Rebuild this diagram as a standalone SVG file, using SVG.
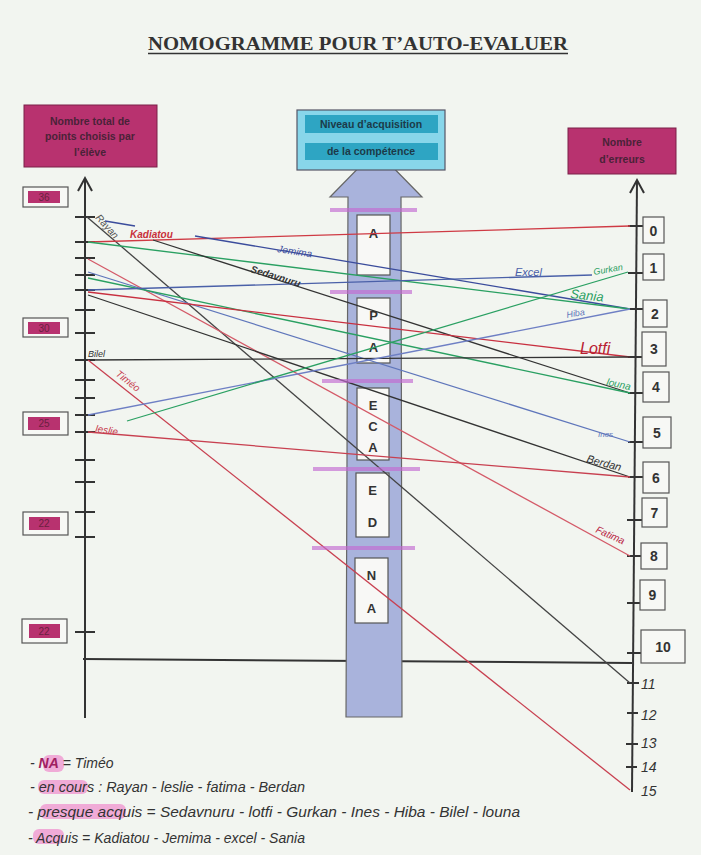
<svg xmlns="http://www.w3.org/2000/svg" width="701" height="855" viewBox="0 0 701 855">
<defs>
<style>
.bg{fill:#f2f5f0}
.ttl{font-family:"Liberation Serif",serif;font-weight:bold;font-size:18px;fill:#333}
.hdr{font-family:"Liberation Sans",Arial,sans-serif;font-weight:bold;font-size:10.5px;fill:#4a2238;text-anchor:middle}
.chdr{font-family:"Liberation Sans",Arial,sans-serif;font-weight:bold;font-size:10.5px;fill:#1c3a48;text-anchor:middle}
.mag{fill:#b8326f;stroke:#7a2048;stroke-width:1}
.axis{stroke:#333;stroke-width:2;fill:none}
.tick{stroke:#333;stroke-width:1.8}
.nbox{fill:#f7f8f5;stroke:#555;stroke-width:1.2}
.num{font-family:"Liberation Sans",Arial,sans-serif;font-weight:bold;font-size:14px;fill:#333;text-anchor:middle}
.lnum{font-family:"Liberation Sans",Arial,sans-serif;font-size:10px;fill:#6a2040;text-anchor:middle}
.let{font-family:"Liberation Sans",Arial,sans-serif;font-weight:bold;font-size:13px;fill:#333;text-anchor:middle}
.lbox{fill:#f8f8f6;stroke:#555;stroke-width:1.2}
.hl{stroke:#c46ad2;stroke-width:4;opacity:0.65}
.hand{font-family:"Liberation Sans",Arial,sans-serif;font-style:italic}
.hnum{font-family:"Liberation Sans",Arial,sans-serif;font-style:italic;font-size:14px;fill:#333}
.leg{font-family:"Liberation Sans",Arial,sans-serif;font-style:italic;font-size:14px;fill:#333}
.lhl{fill:#f08ccc;opacity:0.7}
.st{fill:none;stroke-width:1.3}
</style>
</defs>
<rect class="bg" x="0" y="0" width="701" height="855"/>

<g id="title">
<text class="ttl" x="148" y="50" textLength="420" lengthAdjust="spacingAndGlyphs">NOMOGRAMME POUR T’AUTO-EVALUER</text>
<line x1="148" y1="53.5" x2="568" y2="53.5" stroke="#333" stroke-width="1.3"/>
</g>

<g id="header-left">
<rect class="mag" x="24" y="105" width="133" height="62"/>
<text class="hdr" x="90" y="125">Nombre total de</text>
<text class="hdr" x="90" y="140">points choisis par</text>
<text class="hdr" x="90" y="156">l’élève</text>
</g>

<g id="header-right">
<rect class="mag" x="568" y="128" width="108" height="46"/>
<text class="hdr" x="622" y="146">Nombre</text>
<text class="hdr" x="622" y="163">d’erreurs</text>
</g>

<g id="competence-arrow">
<line x1="83" y1="659" x2="632" y2="663" stroke="#333" stroke-width="2"/>
<polygon points="376,150 422,197 401,197 402,717 346,717 348,197 330,197" fill="#a9b3dc" stroke="#666" stroke-width="1.2"/>
</g>

<g id="header-center">
<rect x="297" y="110" width="148" height="60" fill="#88d6ea" stroke="#556" stroke-width="1.2"/>
<rect x="305" y="115" width="133" height="18" fill="#2ea5c3"/>
<rect x="305" y="143" width="133" height="17" fill="#2ea5c3"/>
<text class="chdr" x="371" y="128">Niveau d’acquisition</text>
<text class="chdr" x="371" y="155">de la compétence</text>
</g>

<g id="level-A">
<rect class="lbox" x="357" y="215" width="33" height="60"/>
<text class="let" x="373.5" y="238">A</text>
</g>
<g id="level-PA">
<rect class="lbox" x="357" y="298" width="33" height="65"/>
<text class="let" x="373.5" y="320">P</text>
<text class="let" x="373.5" y="352">A</text>
</g>
<g id="level-ECA">
<rect class="lbox" x="357" y="388" width="32" height="72"/>
<text class="let" x="373" y="410">E</text>
<text class="let" x="373" y="431">C</text>
<text class="let" x="373" y="452">A</text>
</g>
<g id="level-ED">
<rect class="lbox" x="356" y="473" width="33" height="64"/>
<text class="let" x="372.5" y="495">E</text>
<text class="let" x="372.5" y="527">D</text>
</g>
<g id="level-NA">
<rect class="lbox" x="355" y="558" width="33" height="65"/>
<text class="let" x="371.5" y="580">N</text>
<text class="let" x="371.5" y="613">A</text>
</g>

<g id="axis-left">
<line class="axis" x1="85" y1="178" x2="85" y2="718"/>
<polyline class="axis" points="78,191 85,178 92,191"/>
<path class="tick" d="M75 217H95M75 242H95M75 258H95M75 275H95M75 290H95M75 310H95M75 333H95M75 360H95M75 380H95M75 398H95M75 415H95M75 432H95M75 460H95M75 482H95M75 512H95M75 537H95M75 632H95"/>
</g>

<g id="scale-left">
<rect class="nbox" x="23" y="187" width="45" height="20"/><rect x="28" y="191" width="32" height="12" fill="#b8326f"/><text class="lnum" x="44" y="201">36</text>
<rect class="nbox" x="23" y="318" width="45" height="19"/><rect x="28" y="322" width="32" height="12" fill="#b8326f"/><text class="lnum" x="44" y="332">30</text>
<rect class="nbox" x="23" y="412" width="45" height="23"/><rect x="28" y="417" width="32" height="13" fill="#b8326f"/><text class="lnum" x="44" y="427">25</text>
<rect class="nbox" x="23" y="512" width="45" height="23"/><rect x="29" y="517" width="31" height="13" fill="#b8326f"/><text class="lnum" x="44" y="527">22</text>
<rect class="nbox" x="22" y="619" width="45" height="24"/><rect x="29" y="624" width="31" height="14" fill="#b8326f"/><text class="lnum" x="44" y="635">22</text>
</g>

<g id="axis-right">
<line class="axis" x1="637" y1="180" x2="632" y2="792"/>
<polyline class="axis" points="630,193 637,180 644,193"/>
<path class="tick" d="M628 226H643M628 273H643M628 309H643M628 357H643M628 393H643M628 442H643M628 477H643M627 520H642M627 556H641M627 603H640M627 653H641M627 683H639M627 713H638M626 744H638M626 767H637"/>
</g>

<g id="scale-right">
<rect class="nbox" x="643" y="217" width="21" height="26"/><text class="num" x="653.5" y="236">0</text>
<rect class="nbox" x="643" y="254" width="21" height="26"/><text class="num" x="653.5" y="273">1</text>
<rect class="nbox" x="643" y="300" width="24" height="27"/><text class="num" x="655" y="319">2</text>
<rect class="nbox" x="642" y="332" width="24" height="34"/><text class="num" x="654" y="354">3</text>
<rect class="nbox" x="643" y="372" width="26" height="30"/><text class="num" x="656" y="392">4</text>
<rect class="nbox" x="643" y="417" width="28" height="31"/><text class="num" x="657" y="438">5</text>
<rect class="nbox" x="643" y="462" width="26" height="31"/><text class="num" x="656" y="483">6</text>
<rect class="nbox" x="642" y="498" width="25" height="29"/><text class="num" x="654.5" y="518">7</text>
<rect class="nbox" x="641" y="543" width="26" height="26"/><text class="num" x="654" y="561">8</text>
<rect class="nbox" x="640" y="580" width="25" height="30"/><text class="num" x="652.5" y="600">9</text>
<rect class="nbox" x="641" y="630" width="44" height="33"/><text class="num" x="663" y="652">10</text>
<text class="hnum" x="641" y="689">11</text>
<text class="hnum" x="641" y="720">12</text>
<text class="hnum" x="641" y="748">13</text>
<text class="hnum" x="641" y="772">14</text>
<text class="hnum" x="641" y="796">15</text>
</g>

<g id="connectors">
<line class="st" stroke="#444" stroke-width="1.6" x1="87" y1="217" x2="630" y2="683"/>
<line class="st" stroke="#cf3a44" x1="88" y1="242" x2="630" y2="226"/>
<line class="st" stroke="#3b4c9c" x1="105" y1="221" x2="135" y2="226"/>
<line class="st" stroke="#3b4c9c" x1="195" y1="236" x2="630" y2="309"/>
<line class="st" stroke="#2aa062" x1="88" y1="242" x2="630" y2="309"/>
<line class="st" stroke="#333" x1="153" y1="240" x2="630" y2="393"/>
<line class="st" stroke="#d45a68" x1="88" y1="259" x2="630" y2="556"/>
<line class="st" stroke="#5f76bb" x1="88" y1="272" x2="630" y2="442"/>
<line class="st" stroke="#2aa062" x1="88" y1="278" x2="630" y2="393"/>
<line class="st" stroke="#4a60a8" x1="88" y1="290" x2="592" y2="275"/>
<line class="st" stroke="#c83040" x1="88" y1="292" x2="630" y2="357"/>
<line class="st" stroke="#333" x1="88" y1="295" x2="630" y2="477"/>
<line class="st" stroke="#333" x1="85" y1="360" x2="630" y2="357"/>
<line class="st" stroke="#c84050" x1="88" y1="360" x2="630" y2="790"/>
<line class="st" stroke="#6e7fc4" x1="88" y1="415" x2="630" y2="309"/>
<line class="st" stroke="#2aa062" x1="127" y1="421" x2="628" y2="272"/>
<line class="st" stroke="#c84050" x1="88" y1="432" x2="630" y2="477"/>
</g>

<g id="level-markers">
<line class="hl" x1="330" y1="210" x2="417" y2="210"/>
<line class="hl" x1="330" y1="292" x2="412" y2="292"/>
<line class="hl" x1="322" y1="381" x2="413" y2="381"/>
<line class="hl" x1="313" y1="469" x2="420" y2="469"/>
<line class="hl" x1="312" y1="548" x2="415" y2="548"/>
</g>

<g id="student-labels">
<text class="hand" font-size="10" fill="#555" transform="translate(95,218) rotate(48)">Rayan</text>
<text class="hand" font-size="10" font-weight="bold" fill="#c8303a" x="130" y="238">Kadiatou</text>
<text class="hand" font-size="10" fill="#3b4c9c" transform="translate(277,252) rotate(9)">Jemima</text>
<text class="hand" font-size="10" font-weight="bold" fill="#333" transform="translate(250,272) rotate(17)">Sedavnuru</text>
<text class="hand" font-size="11" fill="#4a60a8" x="515" y="276">Excel</text>
<text class="hand" font-size="9" fill="#2aa062" transform="translate(594,275) rotate(-10)">Gurkan</text>
<text class="hand" font-size="13" fill="#2aa062" transform="translate(570,298) rotate(6)">Sania</text>
<text class="hand" font-size="9" fill="#5f76bb" transform="translate(567,318) rotate(-10)">Hiba</text>
<text class="hand" font-size="16" fill="#b82030" x="580" y="354">Lotfi</text>
<text class="hand" font-size="10" fill="#2aa062" transform="translate(606,385) rotate(12)">louna</text>
<text class="hand" font-size="8" fill="#5f76bb" x="598" y="437">Ines</text>
<text class="hand" font-size="11" fill="#333" transform="translate(586,462) rotate(15)">Berdan</text>
<text class="hand" font-size="10" fill="#b82040" transform="translate(595,532) rotate(24)">Fatima</text>
<text class="hand" font-size="9" fill="#333" x="88" y="357">Bilel</text>
<text class="hand" font-size="10" fill="#c84050" transform="translate(115,375) rotate(38)">Timéo</text>
<text class="hand" font-size="10" fill="#c84050" transform="translate(95,432) rotate(8)">leslie</text>
</g>

<g id="legend">
<rect class="lhl" x="43" y="755" width="21" height="17" rx="6"/>
<rect class="lhl" x="38" y="780" width="50" height="14" rx="6"/>
<rect class="lhl" x="40" y="804" width="86" height="15" rx="6"/>
<rect class="lhl" x="33" y="829" width="31" height="15" rx="6"/>
<text class="leg" x="30" y="768">- <tspan fill="#a02060" font-weight="bold">NA</tspan> = Timéo</text>
<text class="leg" x="30" y="792" textLength="275" lengthAdjust="spacingAndGlyphs">- en cours : Rayan - leslie - fatima - Berdan</text>
<text class="leg" x="28" y="817" textLength="492" lengthAdjust="spacingAndGlyphs">- presque acquis = Sedavnuru - lotfi - Gurkan - Ines - Hiba - Bilel - louna</text>
<text class="leg" x="28" y="843" textLength="277" lengthAdjust="spacingAndGlyphs">- Acquis = Kadiatou - Jemima - excel - Sania</text>
</g>
</svg>
